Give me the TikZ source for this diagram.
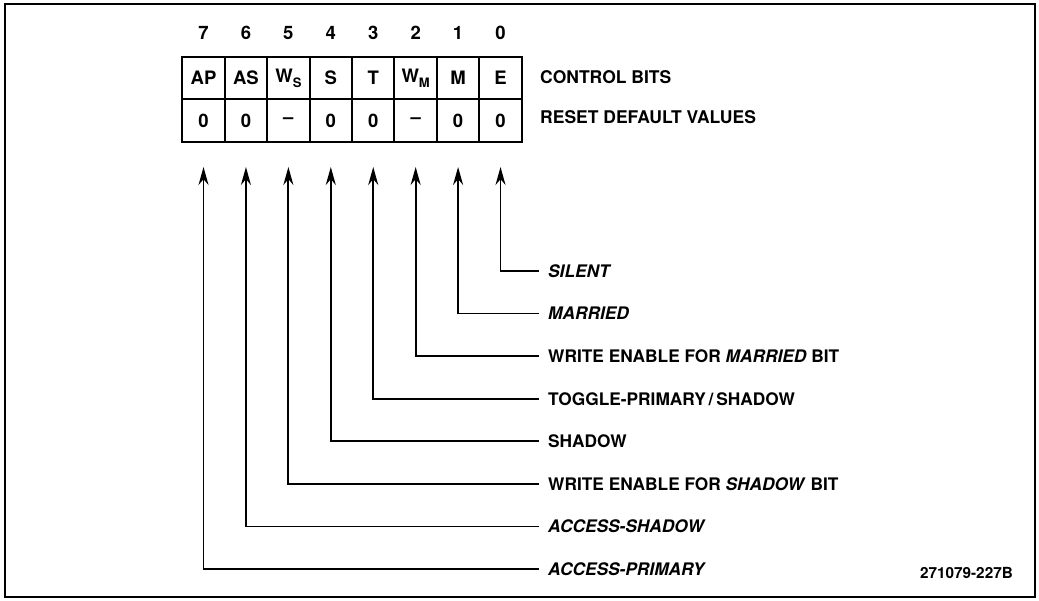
\documentclass[tikz,border=0pt]{standalone}
\usepackage{fontspec}
\setmainfont{TeX Gyre Heros}
\usetikzlibrary{arrows.meta}
\newcommand\subsc[1]{\raisebox{-5pt}{\fontsize{13}{13}\selectfont #1}}
\begin{document}
\begin{tikzpicture}[x=1pt,y=-1pt,
  cellbox/.style={draw, line width=2pt, minimum width=42.4pt, minimum height=42.5pt, inner sep=0pt, font=\fontsize{18.5}{21}\selectfont\bfseries},
  bitnum/.style={font=\fontsize{18.5}{21}\selectfont\bfseries},
  rowlab/.style={anchor=west, inner sep=0pt, font=\fontsize{17.5}{20}\selectfont\bfseries},
  lab/.style={anchor=west, inner xsep=9pt, inner ysep=0pt, font=\fontsize{17.3}{20}\selectfont\bfseries},
  arr/.style={line width=1.8pt, line join=miter, -{Stealth[length=18pt,width=10pt]}},
  idlab/.style={anchor=east, inner sep=0pt, font=\fontsize{15.3}{18}\selectfont\bfseries}]
\useasboundingbox (0,0) rectangle (1039,600);
\draw[line width=2.4pt] (5,4) rectangle (1035,597);
% cells
\foreach \b/\t/\r [count=\i from 0] in {7/AP/0, 6/AS/0, 5/{W\subsc{S}}/\textendash, 4/S/0, 3/T/0, 2/{W\subsc{M}}/\textendash, 1/M/0, 0/E/0}{
  \pgfmathsetmacro\cx{182.3+42.43*(\i+0.5)}
  \node[bitnum] (num\b) at (\cx,33) {\b};
  \node[cellbox] (cb\b) at (\cx,78) {\t};
  \node[cellbox] (rv\b) at (\cx,120.5) {\r};
  \coordinate (tip\b) at (\cx,167);
}
\node[rowlab] (ctl) at (540,77) {CONTROL BITS};
\node[rowlab] (rst) at (540,117) {RESET DEFAULT VALUES};
% labels and connectors
\foreach \b/\t in {0/{\itshape SILENT}, 1/{\itshape MARRIED}, 2/{WRITE ENABLE FOR \textit{MARRIED} BIT}, 3/{TOGGLE-PRIMARY\,/\,SHADOW}, 4/SHADOW, 5/{WRITE ENABLE FOR \textit{SHADOW} BIT}, 6/{\itshape ACCESS-SHADOW}, 7/{\itshape ACCESS-PRIMARY}}{
  \pgfmathsetmacro\ly{271+42.57*\b}
  \node[lab] (lab\b) at (539,\ly) {\t};
  \draw[arr] (lab\b.west) -| (tip\b);
}
\node[idlab] (id) at (1013,573) {271079-227B};
\end{tikzpicture}
\end{document}
